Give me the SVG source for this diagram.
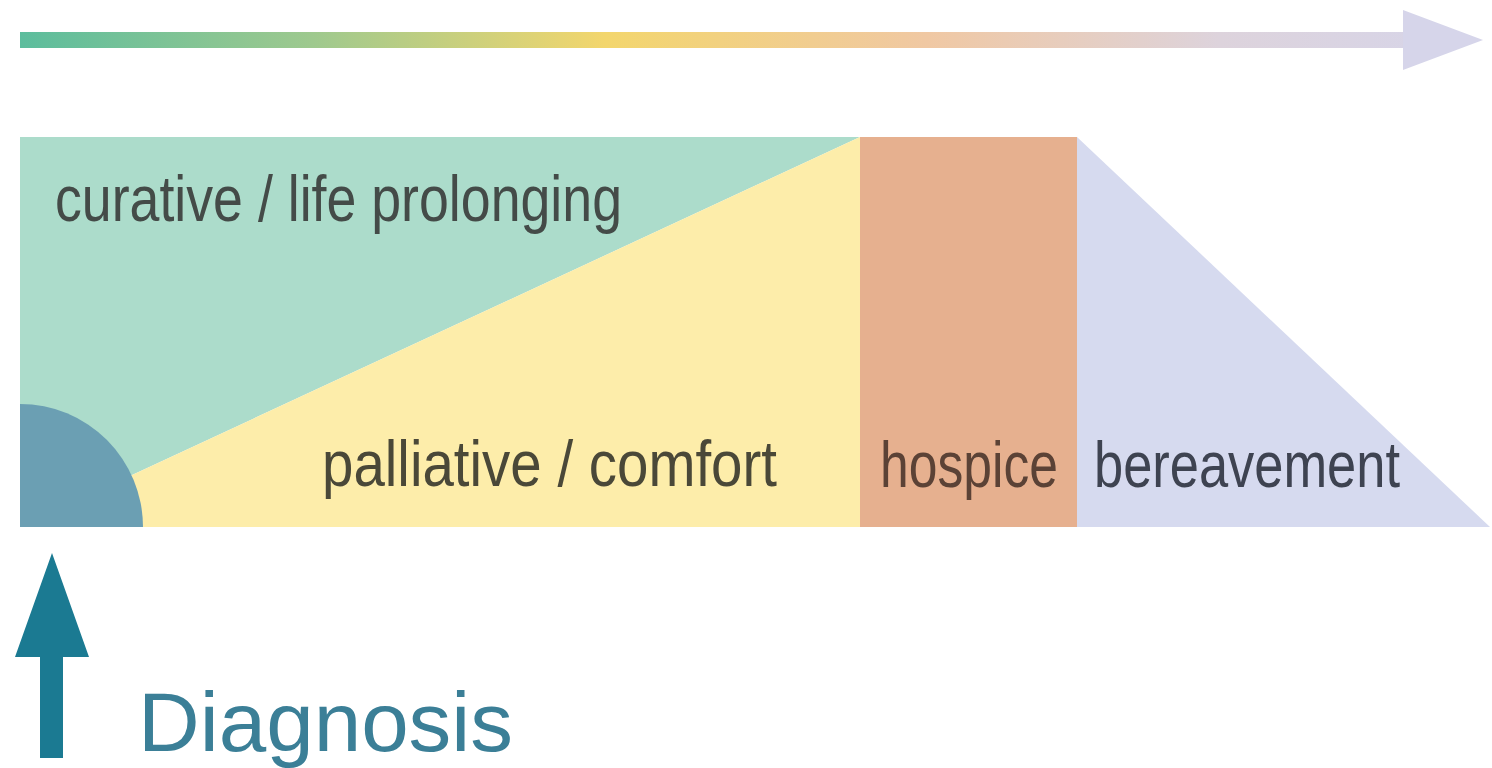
<svg xmlns="http://www.w3.org/2000/svg" width="1492" height="768" viewBox="0 0 1492 768">
<defs>
<linearGradient id="tl" x1="20" y1="0" x2="1483" y2="0" gradientUnits="userSpaceOnUse">
<stop offset="0" stop-color="#5cbd9d"/>
<stop offset="0.2" stop-color="#9ec98e"/>
<stop offset="0.4" stop-color="#f3d66d"/>
<stop offset="0.62" stop-color="#f0c8a3"/>
<stop offset="0.82" stop-color="#ddd3dc"/>
<stop offset="1" stop-color="#d6d5ea"/>
</linearGradient>
</defs>
<style>
.lbl{font-family:"Liberation Sans Narrow","Liberation Sans",Arial,sans-serif;font-size:64px;}
.dx{font-family:"Liberation Sans",Arial,sans-serif;font-size:84px;fill:#3b7f97;}
</style>
<rect width="1492" height="768" fill="#ffffff"/>
<g id="timeline">
<rect x="20" y="32" width="1385" height="16" fill="url(#tl)"/>
<polygon points="1403,10 1483,40 1403,70" fill="#d6d5ea"/>
</g>
<g id="curative">
<polygon points="20,137 860,137 20,527" fill="#acdccb"/>
<text class="lbl" x="55" y="221" fill="#444b48" textLength="567" lengthAdjust="spacingAndGlyphs">curative / life prolonging</text>
</g>
<g id="palliative">
<polygon points="860,137 860,527 20,527" fill="#fdedaa"/>
<text class="lbl" x="322" y="486" fill="#4a4838" textLength="455" lengthAdjust="spacingAndGlyphs">palliative / comfort</text>
</g>
<g id="diagnosis-quadrant">
<path d="M20,527 L20,404 A123,123 0 0 1 143,527 Z" fill="#6b9fb3"/>
</g>
<g id="hospice">
<rect x="860" y="137" width="217" height="390" fill="#e6b08f"/>
<text class="lbl" x="880" y="487" fill="#5b4236" textLength="178" lengthAdjust="spacingAndGlyphs">hospice</text>
</g>
<g id="bereavement">
<polygon points="1077,137 1077,527 1490,527" fill="#d6daef"/>
<text class="lbl" x="1094" y="487" fill="#3e4351" textLength="306" lengthAdjust="spacingAndGlyphs">bereavement</text>
</g>
<g id="diagnosis">
<polygon points="52,553 89,657 63,657 63,758 40,758 40,657 15,657" fill="#1b7a92"/>
<text class="dx" x="138" y="751" textLength="375" lengthAdjust="spacingAndGlyphs">Diagnosis</text>
</g>
</svg>
